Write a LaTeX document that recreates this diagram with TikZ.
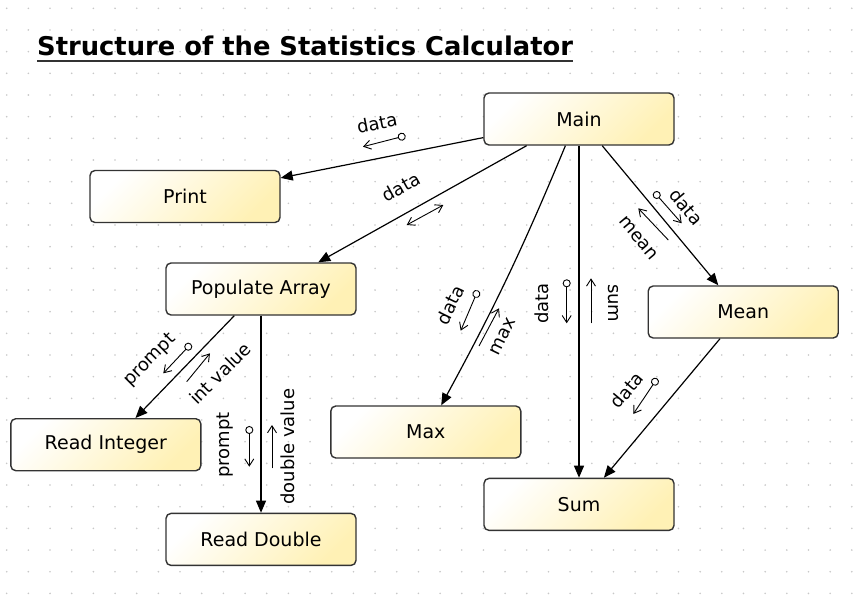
\documentclass[tikz,border=0pt]{standalone}
\usepackage{fontspec}
\setmainfont{DejaVu Sans}
\usepackage{xcolor}
\usepackage{tikz}
\usetikzlibrary{arrows.meta,positioning}
\definecolor{boxyellow}{RGB}{255,241,181}
\definecolor{boxline}{RGB}{51,51,51}
\definecolor{dotgray}{RGB}{200,200,200}

\begin{document}
\begin{tikzpicture}[
  x=1pt, y=-1pt,
  font=\fontsize{18}{21}\selectfont,
  box/.style={draw=boxline, line width=1.4pt, rounded corners=5pt, minimum width=190pt, minimum height=52pt, top color=white, bottom color=boxyellow, shading angle=45, font=\fontsize{19}{22}\selectfont},
  arr/.style={-{Triangle[length=12pt,width=10pt]}, line width=1.2pt},
  flow/.style={-{Straight Barb[length=7pt,width=9pt]}, line width=0.9pt},
  both/.style={{Straight Barb[length=7pt,width=9pt]}-{Straight Barb[length=7pt,width=9pt]}, line width=0.9pt},
  src/.style={{Circle[open,length=8pt,width=8pt]}-{Straight Barb[length=7pt,width=9pt]}, line width=0.9pt},
  lab/.style={inner sep=1pt}
]
\useasboundingbox[fill=white] (0,0) rectangle (855,603);
% dot grid
\foreach \i in {0,...,39} {
  \foreach \j in {0,...,27} {
    \fill[dotgray] (6.7+21.67*\i, 8.3+21.67*\j) circle (0.9pt);
  }
}
% title
\node[font=\bfseries\fontsize{25.8}{30}\selectfont, anchor=base west, inner sep=0pt] (title) at (37,55) {Structure of the Statistics Calculator};
\draw[line width=2pt, boxline] ([yshift=-6pt]title.base west) -- ([yshift=-6pt]title.base east);
% modules
\node[box] (main) at (579,119) {Main};
\node[box] (print) at (185,196.5) {Print};
\node[box] (pop) at (261,289) {Populate Array};
\node[box] (readint) at (105.8,444.7) {Read Integer};
\node[box, below=197pt of pop] (readdbl) {Read Double};
\node[box] (max) at (425.8,432) {Max};
\node[box, below=332pt of main] (sum) {Sum};
\node[box] (mean) at (743.2,312) {Mean};
% calls
\draw[arr] (main.191) -- (print.11);
\draw[arr] (main.207) -- (pop.25);
\draw[arr] (main.243) to[bend left=3] (max.60);
\draw[arr] (main.south) -- (sum.north);
\draw[arr] (main.311) -- (mean.133);
\draw[arr] (mean.229) -- (sum.47);
\draw[arr] (pop.225) -- (readint.42);
\draw[arr] (pop.south) -- (readdbl.north);
% data flow labels
\node[lab, rotate=11] (lprint) at (377,123) {data};
\node[lab, rotate=29] (lpop) at (401,187) {data};
\node[lab, rotate=64] (lmax) at (450,305) {data};
\node[lab, rotate=64] (lmaxr) at (503,336.7) {max};
\node[lab, rotate=90] (lsum) at (541.7,303.3) {data};
\node[lab, rotate=-90] (lsumr) at (613.3,303.3) {sum};
\node[lab, rotate=-50] (lmean) at (686.7,206.7) {data};
\node[lab, rotate=-50] (lmeanr) at (638.3,238.3) {mean};
\node[lab, rotate=50] (lms) at (626.7,390) {data};
\node[lab, rotate=45] (lint) at (150,360) {prompt};
\node[lab, rotate=45] (lintr) at (220,373.3) {int value};
\node[lab, rotate=90] (ldbl) at (225,445) {prompt};
\node[lab, rotate=90] (ldblr) at (287.3,446.7) {double value};
% data flow arrows
\coordinate (fa1) at (405.6,135.7); \coordinate (fa2) at (363,146.7);
\coordinate (fb1) at (406.7,225);   \coordinate (fb2) at (443.3,205);
\coordinate (fc1) at (654.1,192);   \coordinate (fc2) at (681.7,223.3);
\coordinate (fd1) at (668.3,240);   \coordinate (fd2) at (638.3,208.3);
\coordinate (fe1) at (477.9,290.3); \coordinate (fe2) at (460.7,330.7);
\coordinate (ff1) at (479,346);     \coordinate (ff2) at (499,308.3);
\coordinate (fg1) at (566.7,279.3); \coordinate (fg2) at (566.7,323.3);
\coordinate (fh1) at (591,323.3);   \coordinate (fh2) at (591,278.3);
\coordinate (fi1) at (657.2,378.4); \coordinate (fi2) at (633.3,414);
\coordinate (fj1) at (191,343.8);   \coordinate (fj2) at (163.3,373.3);
\coordinate (fk1) at (186.7,381.7); \coordinate (fk2) at (210,353.3);
\coordinate (fl1) at (249.3,426);   \coordinate (fl2) at (249.3,466.7);
\coordinate (fm1) at (272,468.3);   \coordinate (fm2) at (272,425);
\draw[src] (fa1) -- (fa2);
\draw[both] (fb1) -- (fb2);
\draw[src] (fc1) -- (fc2);
\draw[flow] (fd1) -- (fd2);
\draw[src] (fe1) -- (fe2);
\draw[flow] (ff1) -- (ff2);
\draw[src] (fg1) -- (fg2);
\draw[flow] (fh1) -- (fh2);
\draw[src] (fi1) -- (fi2);
\draw[src] (fj1) -- (fj2);
\draw[flow] (fk1) -- (fk2);
\draw[src] (fl1) -- (fl2);
\draw[flow] (fm1) -- (fm2);
\end{tikzpicture}
\end{document}
